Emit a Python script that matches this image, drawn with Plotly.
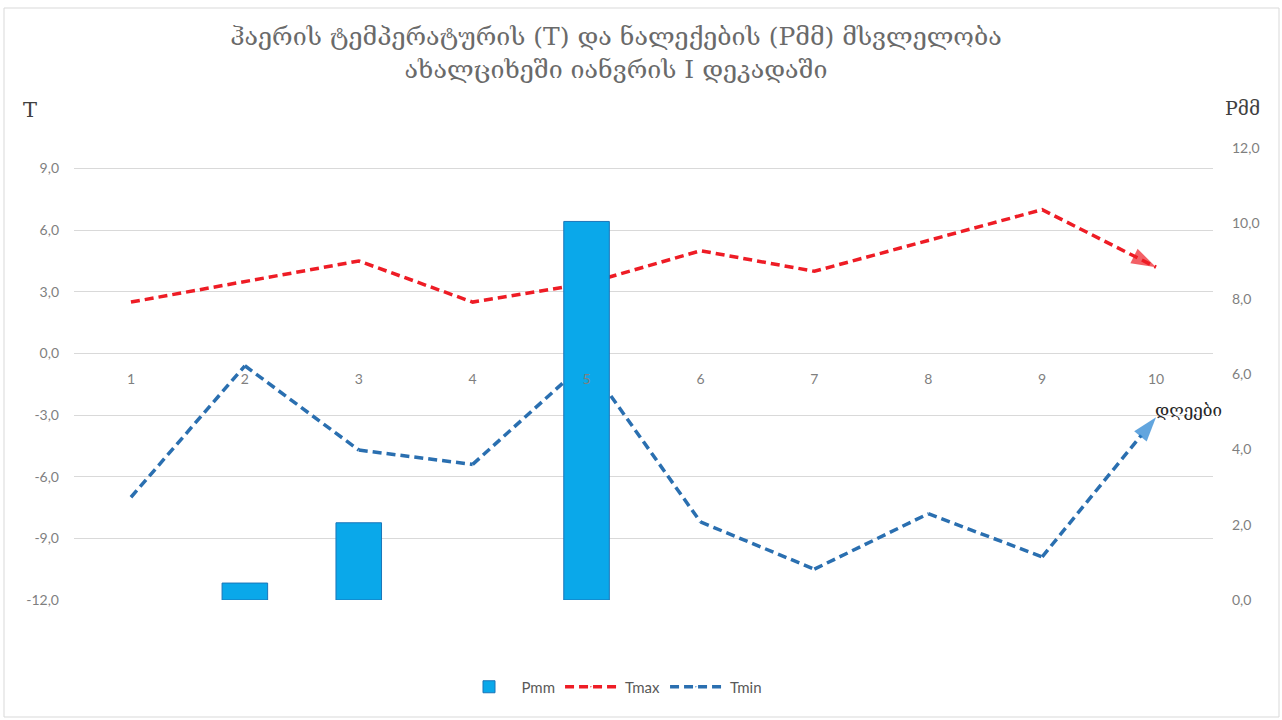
import plotly.graph_objects as go

days = [1, 2, 3, 4, 5, 6, 7, 8, 9, 10]
day_labels = ["1", "2", "3", "4", "5", "6", "7", "8", "9", "10"]
pmm = [None, 0.45, 2.05, None, 10.05, None, None, None, None, None]
tmax = [2.5, 3.5, 4.5, 2.5, 3.4, 5.0, 4.0, 5.5, 7.0, 4.2]
tmin = [-7.0, -0.6, -4.7, -5.4, -0.4, -8.2, -10.5, -7.8, -9.9, -3.1]

t_ticks = [-12, -9, -6, -3, 0, 3, 6, 9]
t_tick_labels = ["-12,0", "-9,0", "-6,0", "-3,0", "0,0", "3,0", "6,0", "9,0"]
p_ticks = [0, 2, 4, 6, 8, 10, 12]
p_tick_labels = ["0,0", "2,0", "4,0", "6,0", "8,0", "10,0", "12,0"]

T_RANGE = [-12, 10]
P_RANGE = [0, 12]

title_text = ("ჰაერის ტემპერატურის (T) და ნალექების (Pმმ) მსვლელობა<br>"
              "ახალციხეში იანვრის I დეკადაში")

W, H = 1282, 720
L, R, T, B = 74, 69, 148, 120
pw, ph = W - L - R, H - T - B

def px(x):
    return (x - L) / pw

def py(y):
    return (H - B - y) / ph

tick_font = dict(family="Lato, Open Sans, sans-serif", size=14, color="#7f7f7f")
geo_font = "DejaVu Serif, DejaVu Sans, serif"

def end_sizes(n, s):
    return [0] * (n - 1) + [s]

fig = go.Figure()
fig.add_trace(go.Bar(
    x=days, y=pmm, name="Pmm", yaxis="y2", width=0.4,
    marker=dict(color="#0aa8ea", line=dict(color="#1b75b8", width=1)),
))
fig.add_trace(go.Scatter(
    x=days, y=tmax, name="Tmax", mode="lines+markers",
    line=dict(color="#ee1c25", width=3.5, dash="9px,5px"),
    marker=dict(symbol="arrow", size=end_sizes(len(days), 26), angleref="previous",
                color="#ee1c25", line=dict(width=0)),
))
fig.add_trace(go.Scatter(
    x=days, y=tmin, name="Tmin", mode="lines+markers",
    line=dict(color="#2a6fb0", width=3.5, dash="9px,5px"),
    marker=dict(symbol="arrow", size=end_sizes(len(days), 26), angleref="previous",
                color="#1f7fd0", line=dict(width=0)),
))

zero_pos = (0 - T_RANGE[0]) / (T_RANGE[1] - T_RANGE[0])

fig.update_layout(
    width=W, height=H,
    margin=dict(l=L, r=R, t=T, b=B, autoexpand=False),
    paper_bgcolor="white", plot_bgcolor="white",
    title=dict(text=title_text, x=px(616), xref="paper", xanchor="center",
               y=1 - 45 / H, yref="container", yanchor="top",
               font=dict(family=geo_font, size=25, color="#6a6a6a")),
    xaxis=dict(range=[0.5, 10.5], tickvals=days, ticktext=day_labels,
               anchor="free", position=zero_pos, showgrid=False, zeroline=False,
               showline=False, ticks="", tickfont=tick_font, ticklabelstandoff=16,
               automargin=False),
    yaxis=dict(range=T_RANGE, tickvals=t_ticks, ticktext=t_tick_labels,
               showgrid=True, gridcolor="#d9d9d9", gridwidth=1, zeroline=False,
               showline=False, ticks="", tickfont=tick_font, ticklabelstandoff=14,
               automargin=False),
    yaxis2=dict(range=P_RANGE, tickvals=p_ticks, ticktext=p_tick_labels,
                overlaying="y", side="right",
                showgrid=False, zeroline=False, showline=False, ticks="",
                tickfont=tick_font, ticklabelstandoff=18, automargin=False),
    legend=dict(orientation="h", x=px(612), xref="paper", xanchor="center",
                y=py(687), yanchor="middle", itemwidth=55,
                font=dict(family="Lato, Open Sans, sans-serif", size=15, color="#595959")),
    bargap=0.6,
    showlegend=True,
)

fig.add_annotation(text="T", xref="paper", yref="paper", x=px(30), y=py(110),
                   xanchor="center", yanchor="middle",
                   showarrow=False, font=dict(family=geo_font, size=21, color="#404040"))
fig.add_annotation(text="Pმმ", xref="paper", yref="paper", x=px(1243), y=py(108),
                   xanchor="center", yanchor="middle",
                   showarrow=False, font=dict(family=geo_font, size=19, color="#404040"))
fig.add_annotation(text="დღეები", xref="paper", yref="paper", x=px(1188), y=py(410),
                   xanchor="center", yanchor="middle",
                   showarrow=False, font=dict(family=geo_font, size=17, color="#262626"))

fig.add_shape(type="rect", xref="paper", yref="paper",
              x0=px(4), x1=px(1279), y0=py(717), y1=py(8),
              line=dict(color="#d9d9d9", width=1), fillcolor="rgba(0,0,0,0)", layer="below")

fig.write_html("out.html", config={"displayModeBar": False},
               post_script="document.body.style.margin='0';")
